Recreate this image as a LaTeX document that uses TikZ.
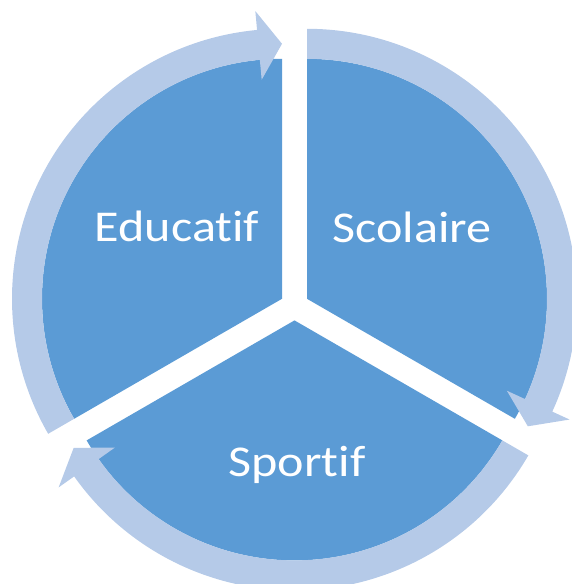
\documentclass[tikz,border=0pt]{standalone}
\usepackage{fontspec}
\newfontfamily\lblfont[FakeStretch=1.14,Ligatures=NoCommon]{Carlito}
\usetikzlibrary{calc}
\definecolor{pieblue}{RGB}{91,155,213}
\definecolor{ringblue}{RGB}{181,202,232}
\tikzset{
  piece/.style={fill=pieblue, draw=none},
  ring/.style={fill=ringblue, draw=none},
  lbl/.style={text=white, font=\lblfont\fontsize{44}{50}\selectfont, anchor=base, inner sep=0pt}
}
\begin{document}
\begin{tikzpicture}[x=1pt,y=1pt]
\useasboundingbox (0,0) rectangle (572,584);
\clip (0,0) rectangle (572,584);
% sector centres (exploded)
\coordinate (cE) at (282.0,285.2);
\coordinate (cS) at (307.0,285.2);
\coordinate (cP) at (294.5,263.6);
% pie sectors
\fill[piece] (cE) -- ($(cE)+(90:240)$) arc[start angle=90, end angle=210, radius=240] -- cycle;
\fill[piece] (cS) -- ($(cS)+(-30:240)$) arc[start angle=-30, end angle=90, radius=240] -- cycle;
\fill[piece] (cP) -- ($(cP)+(210:240)$) arc[start angle=210, end angle=330, radius=240] -- cycle;
% circular arrows
\fill[ring] ($(cE)+(210:270)$) arc[start angle=210, end angle=95.3, radius=270]
  -- ($(cE)+(95.3:289)$) -- ($(cE)+(90:255)$) -- ($(cE)+(95.3:220)$) -- ($(cE)+(95.3:240)$)
  arc[start angle=95.3, end angle=210, radius=240] -- cycle;
\fill[ring] ($(cS)+(90:270)$) arc[start angle=90, end angle=-24.7, radius=270]
  -- ($(cS)+(-24.7:289)$) -- ($(cS)+(-30:255)$) -- ($(cS)+(-24.7:220)$) -- ($(cS)+(-24.7:240)$)
  arc[start angle=-24.7, end angle=90, radius=240] -- cycle;
\fill[ring] ($(cP)+(330:270)$) arc[start angle=330, end angle=215.3, radius=270]
  -- ($(cP)+(215.3:289)$) -- ($(cP)+(210:255)$) -- ($(cP)+(215.3:220)$) -- ($(cP)+(215.3:240)$)
  arc[start angle=215.3, end angle=330, radius=240] -- cycle;
% labels
\node[lbl] (educatif) at (177,342) {Educatif};
\node[lbl] (scolaire) at (412,341) {Scolaire};
\node[lbl] (sportif) at (297,107) {Sportif};
\end{tikzpicture}
\end{document}
